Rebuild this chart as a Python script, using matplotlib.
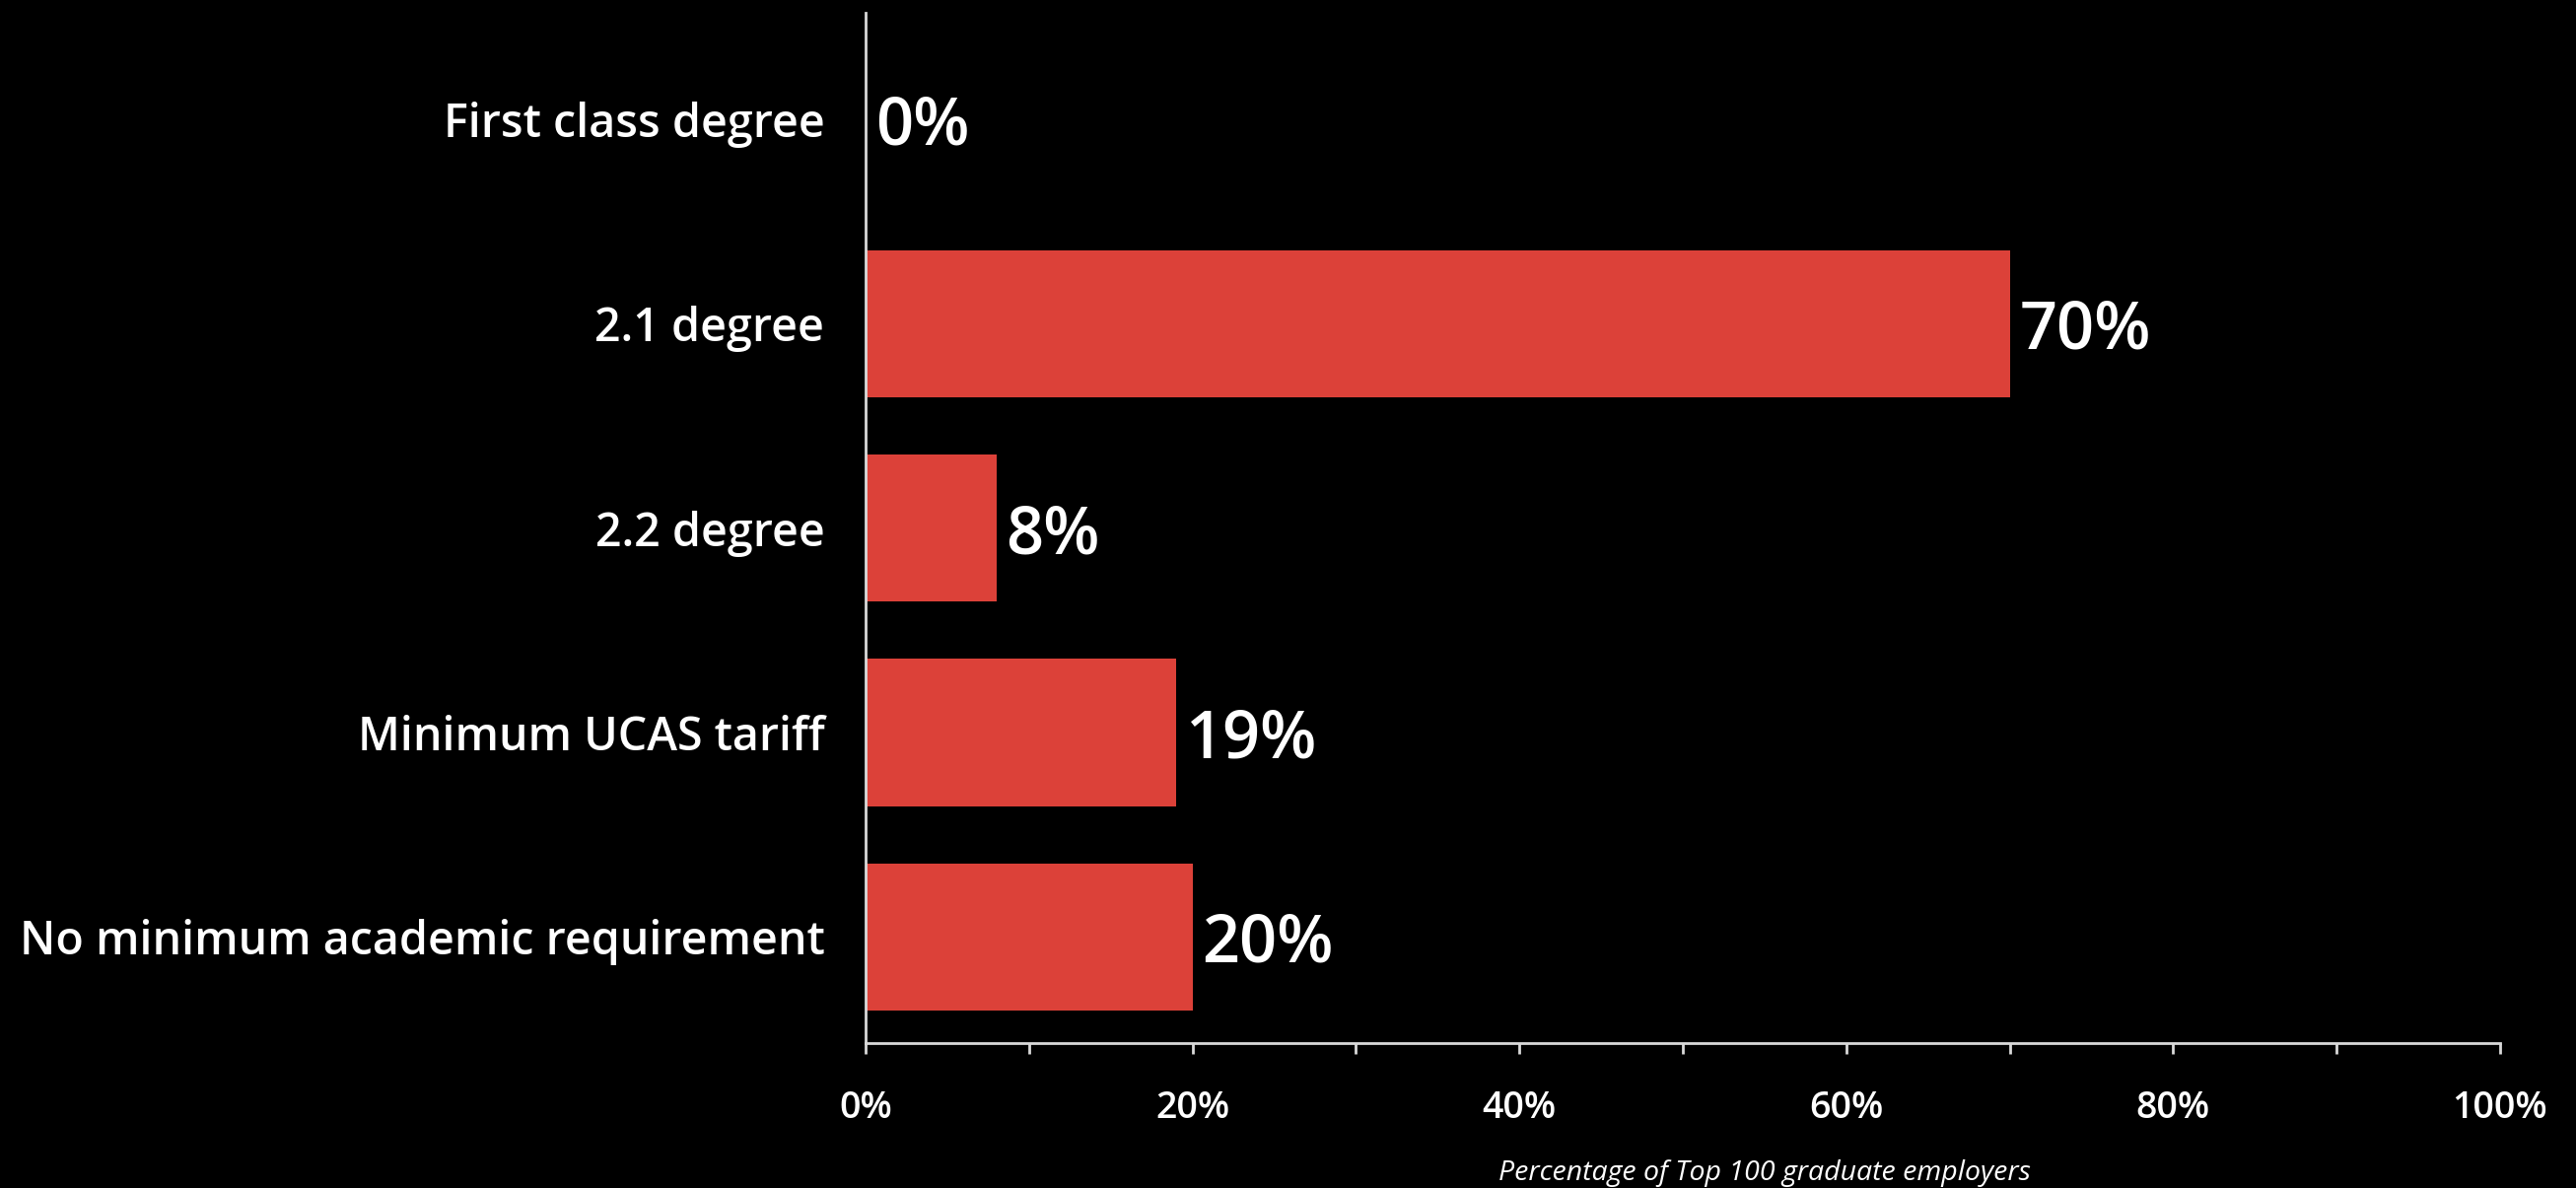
import matplotlib
matplotlib.use("Agg")
import matplotlib.pyplot as plt
from matplotlib.ticker import MultipleLocator, FuncFormatter

# Data
categories = ["First class degree", "2.1 degree", "2.2 degree",
              "Minimum UCAS tariff", "No minimum academic requirement"]
values = [0, 70, 8, 19, 20]
x_ticks = [0, 20, 40, 60, 80, 100]

bar_color = "#DC4139"
axis_color = "#D9D9D9"

plt.rcParams["font.family"] = ["Open Sans", "DejaVu Sans"]

fig = plt.figure(figsize=(26.13, 12.05), dpi=100, facecolor="black")
ax = fig.add_axes([0.336, 0.122, 0.6345, 0.867], facecolor="black")

y = range(len(categories))
ax.barh(y, values, height=0.72, color=bar_color)

# value labels next to each bar
for yi, v in zip(y, values):
    ax.text(v + 0.6, yi, f"{v}%", va="center_baseline", ha="left", color="white",
            fontsize=48, fontweight="semibold")

ax.set_xlim(0, 100)
ax.set_ylim(len(categories) - 0.48, -0.52)
ax.set_yticks(list(y))
ax.set_yticklabels(categories, color="white", fontsize=33.5, fontweight="semibold")
ax.tick_params(axis="y", length=0, pad=30)

ax.set_xticks(x_ticks)
ax.xaxis.set_minor_locator(MultipleLocator(10))
ax.xaxis.set_major_formatter(FuncFormatter(lambda v, p: f"{v:.0f}%"))
ax.tick_params(axis="x", which="both", colors=axis_color, length=8, width=2,
               labelcolor="white", labelsize=27, pad=26)
for lbl in ax.get_xticklabels():
    lbl.set_fontweight("semibold")

for side in ["top", "right"]:
    ax.spines[side].set_visible(False)
for side in ["left", "bottom"]:
    ax.spines[side].set_color(axis_color)
    ax.spines[side].set_linewidth(2)

fig.text(0.685, 0.001, "Percentage of Top 100 graduate employers", color="white",
         fontsize=20.5, style="italic", ha="center", va="bottom")

fig.savefig("out.png", dpi=100, facecolor="black")
